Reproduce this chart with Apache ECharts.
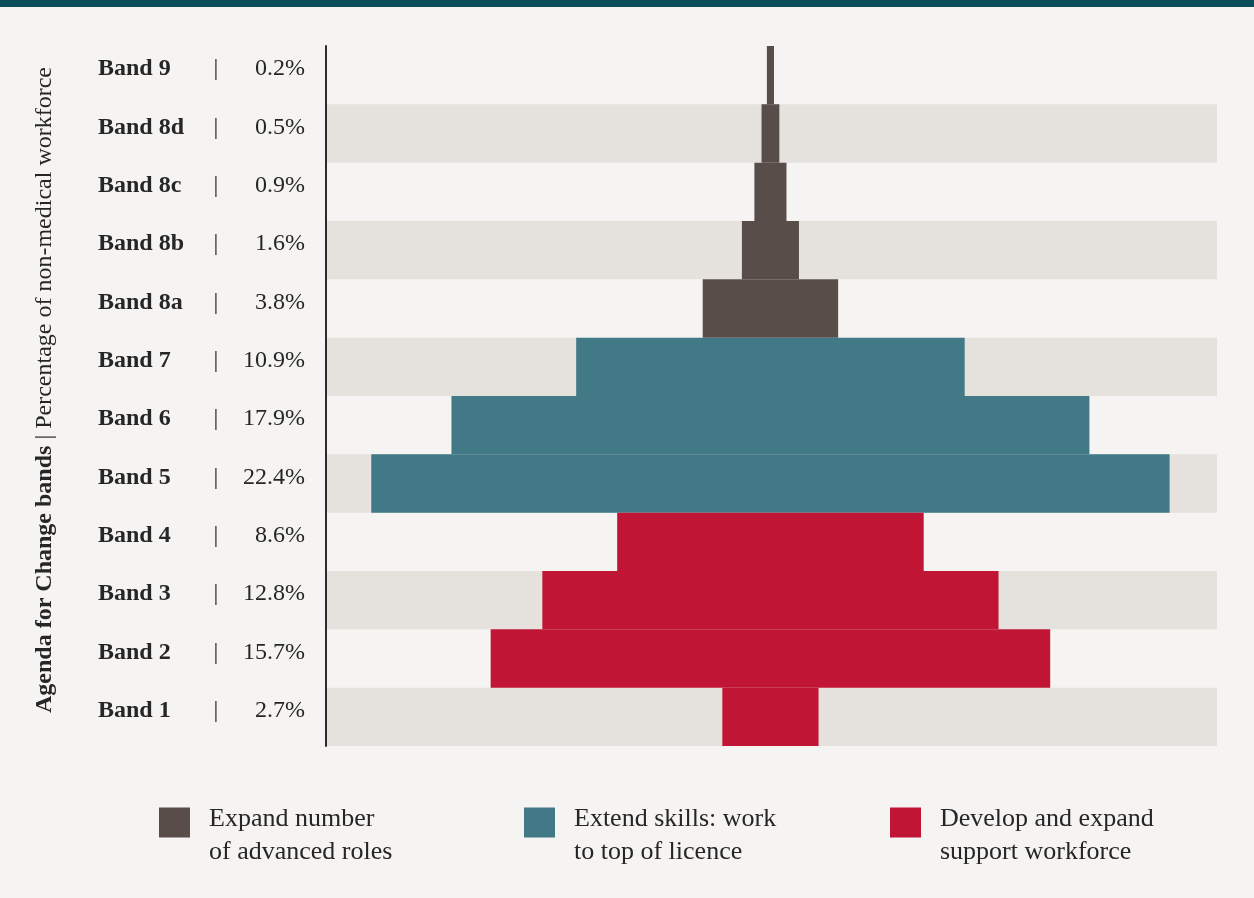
<!DOCTYPE html>
<html>
<head>
<meta charset="utf-8">
<script src="https://cdn.jsdelivr.net/npm/echarts@6/dist/echarts.min.js"></script>
<style>
html,body{margin:0;padding:0;background:#f5f4f2;}
#c{width:1254px;height:898px;}
</style>
</head>
<body>
<div id="c"></div>
<script>
const bands = ['Band 9','Band 8d','Band 8c','Band 8b','Band 8a','Band 7','Band 6','Band 5','Band 4','Band 3','Band 2','Band 1'];
const shares = [0.2, 0.5, 0.9, 1.6, 3.8, 10.9, 17.9, 22.4, 8.6, 12.8, 15.7, 2.7];
const groupOf = [0,0,0,0,0,1,1,1,2,2,2,2];
const groupNames = ['Expand number\nof advanced roles','Extend skills: work\nto top of licence','Develop and expand\nsupport workforce'];
const groupColors = ['#594d4a','#417986','#c11535'];
const axisMax = 25;

const serif = '"Liberation Serif", "DejaVu Serif", serif';
const base = shares.map(v => (axisMax - v) / 2 - 0.03);
const groupSeries = groupNames.map((name, g) => ({
  name: name,
  type: 'bar',
  stack: 'pyr',
  barWidth: '100%',
  barCategoryGap: 0,
  itemStyle: {color: groupColors[g]},
  emphasis: {disabled: true},
  data: shares.map((v, i) => groupOf[i] === g ? v : '-')
}));

const chart = echarts.init(document.getElementById('c'));
chart.setOption({
  backgroundColor: '#f5f4f2',
  animation: false,
  grid: {left: 326, right: 37, top: 46, bottom: 152, containLabel: false},
  xAxis: {type: 'value', min: 0, max: axisMax, show: false},
  yAxis: {
    type: 'category',
    inverse: true,
    data: bands,
    axisTick: {show: false},
    axisLine: {show: true, lineStyle: {color: '#2b2b2b', width: 2}},
    splitArea: {show: true, areaStyle: {color: ['rgba(0,0,0,0)', '#e5e1dc']}},
    axisLabel: {
      margin: 21,
      padding: [0, 0, 12, 0],
      formatter: function (val, idx) {
        return '{b|' + val + '}{s||}{p|' + shares[idx].toFixed(1) + '%}';
      },
      rich: {
        b: {fontFamily: serif, fontWeight: 'bold', fontSize: 24, color: '#262626', width: 112, align: 'left'},
        s: {fontFamily: serif, fontSize: 24, color: '#262626', width: 12, align: 'center'},
        p: {fontFamily: serif, fontSize: 24, color: '#262626', width: 83, align: 'right'}
      }
    }
  },
  legend: groupNames.map((n, g) => ({
    data: [n],
    left: [159, 524, 890][g],
    top: 776,
    padding: 0,
    itemWidth: 31,
    itemHeight: 30,
    icon: 'rect',
    selectedMode: false,
    formatter: function (name) {
      return '{g| }\n' + name.split('\n').map(l => '{t|' + l + '}').join('\n');
    },
    textStyle: {
      fontFamily: serif, fontSize: 26, lineHeight: 33, color: '#262626', padding: [0, 0, 0, 14],
      rich: {
        g: {fontSize: 10, lineHeight: 27, height: 27},
        t: {fontFamily: serif, fontSize: 26, lineHeight: 33, color: '#262626'}
      }
    }
  })),
  graphic: [
    {type: 'rect', x: 0, y: 0, shape: {width: 1254, height: 7}, style: {fill: '#0a4f5b'}},
    {
      type: 'text',
      x: 45, y: 390,
      rotation: Math.PI / 2,
      style: {
        text: '{b|Agenda for Change bands} | Percentage of non-medical workforce',
        font: '24px ' + serif,
        fill: '#262626',
        align: 'center',
        verticalAlign: 'middle',
        rich: {b: {fontFamily: serif, fontWeight: 'bold', fontSize: 24, fill: '#262626'}}
      }
    }
  ],
  series: [{
    name: 'base', type: 'bar', stack: 'pyr', barWidth: '100%', barCategoryGap: 0,
    itemStyle: {color: 'rgba(0,0,0,0)'}, emphasis: {disabled: true}, silent: true,
    data: base
  }].concat(groupSeries)
});
</script>
</body>
</html>
